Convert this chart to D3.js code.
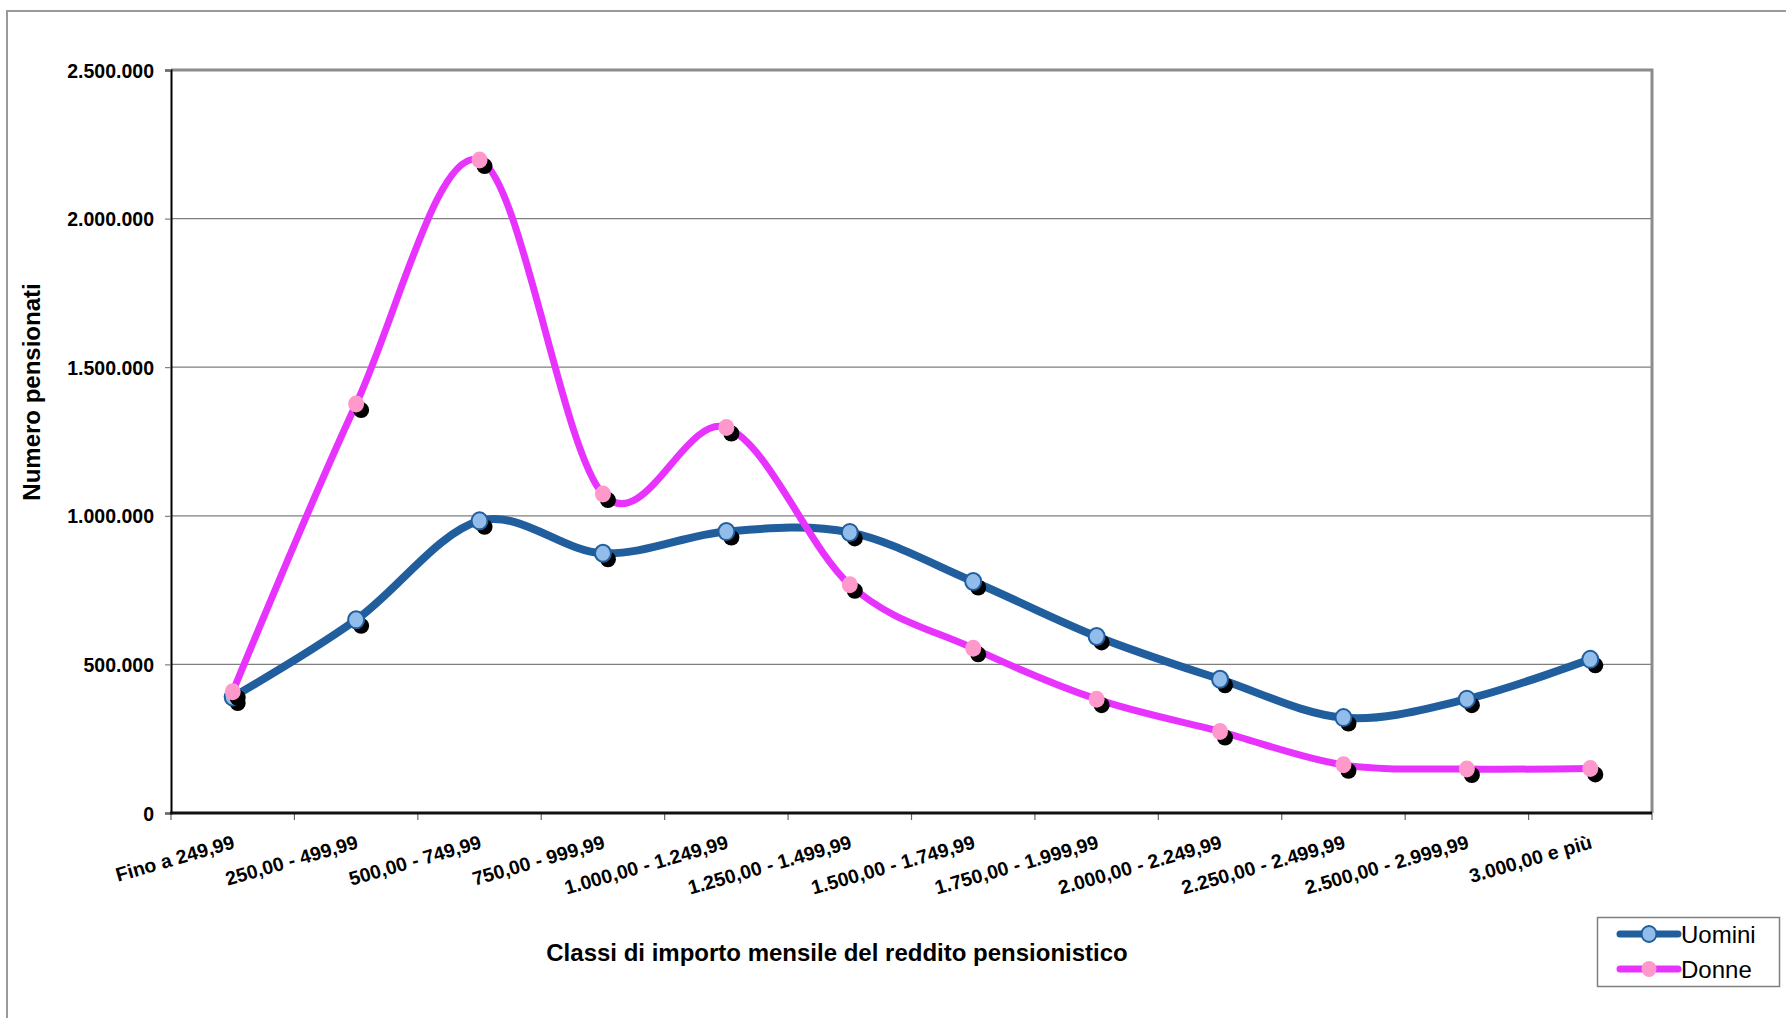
<!DOCTYPE html>
<html>
<head>
<meta charset="utf-8">
<script src="https://cdn.jsdelivr.net/npm/d3@7"></script>
<style>
  html, body { margin: 0; padding: 0; background: #fff; }
  svg { display: block; font-family: "Liberation Sans", Arial, sans-serif; }
</style>
</head>
<body>
<svg id="chart" width="1786" height="1018"></svg>
<script>
// Pension income classes (monthly amount, euro)
const categories = [
  "Fino a 249,99", "250,00 - 499,99", "500,00 - 749,99", "750,00 - 999,99",
  "1.000,00 - 1.249,99", "1.250,00 - 1.499,99", "1.500,00 - 1.749,99",
  "1.750,00 - 1.999,99", "2.000,00 - 2.249,99", "2.250,00 - 2.499,99",
  "2.500,00 - 2.999,99", "3.000,00 e più"
];
// Number of pensioners per class
const uomini = [390000, 650000, 983000, 874000, 947000, 944000, 779000, 594000, 450000, 321000, 383000, 517000];
const donne  = [408000, 1376000, 2197000, 1073000, 1297000, 768000, 554000, 383000, 274000, 162000, 148000, 150000];
const yTicks = [0, 500000, 1000000, 1500000, 2000000, 2500000];
const seriesNames = ["Uomini", "Donne"];

const fmt = v => d3.format(",")(v).replace(/,/g, ".");

const svg = d3.select("#chart");
const plot = { left: 171, right: 1652, top: 70, bottom: 813 };

const x = d3.scaleBand().domain(categories).range([plot.left, plot.right]).padding(0);
const y = d3.scaleLinear().domain([0, 2500000]).range([plot.bottom, plot.top]);
const cx = d => x(d) + x.bandwidth() / 2;

// outer chart frame
svg.append("rect")
  .attr("x", 7).attr("y", 11).attr("width", 1900).attr("height", 1100)
  .attr("fill", "none").attr("stroke", "#9a9a9a").attr("stroke-width", 2);

// horizontal gridlines
svg.append("g").selectAll("line")
  .data(yTicks.filter(t => t > 0 && t < 2500000))
  .join("line")
  .attr("x1", plot.left).attr("x2", plot.right)
  .attr("y1", d => y(d)).attr("y2", d => y(d))
  .attr("stroke", "#7f7f7f").attr("stroke-width", 1.2);

// plot area border (top and right)
svg.append("path")
  .attr("d", `M${plot.left},${y(2500000)}H${plot.right}V${plot.bottom}`)
  .attr("fill", "none").attr("stroke", "#8c8c8c").attr("stroke-width", 3);

// y axis
const yAxis = svg.append("g").attr("transform", `translate(${plot.left},0)`)
  .call(d3.axisLeft(y).tickValues(yTicks).tickFormat(fmt).tickSize(6).tickPadding(11));
yAxis.select(".domain").attr("stroke", "#000").attr("stroke-width", 2);
yAxis.selectAll(".tick line").attr("stroke", "#666");
yAxis.selectAll(".tick text")
  .attr("font-size", 19.5).attr("font-weight", "bold").attr("fill", "#000")
  .attr("font-family", "'Liberation Sans', Arial, sans-serif")
  .attr("dy", "0.36em");

// x axis: baseline and ticks at class boundaries
const boundaries = categories.map(c => x(c)).concat([x(categories[categories.length - 1]) + x.bandwidth()]);
svg.append("g").selectAll("line")
  .data(boundaries)
  .join("line")
  .attr("x1", d => d).attr("x2", d => d)
  .attr("y1", plot.bottom).attr("y2", plot.bottom + 7)
  .attr("stroke", "#666").attr("stroke-width", 1.2);
svg.append("line")
  .attr("x1", plot.left - 1).attr("x2", plot.right)
  .attr("y1", plot.bottom).attr("y2", plot.bottom)
  .attr("stroke", "#111").attr("stroke-width", 3);

// x tick labels, rotated
svg.append("g").selectAll("text")
  .data(categories)
  .join("text")
  .attr("transform", d => `translate(${cx(d) + 3},${plot.bottom + 35}) rotate(-16)`)
  .attr("text-anchor", "end")
  .attr("font-size", 19.5).attr("font-weight", "bold").attr("fill", "#000")
  .text(d => d);

// axis titles
svg.append("text")
  .attr("transform", `translate(40,392) rotate(-90)`)
  .attr("text-anchor", "middle")
  .attr("font-size", 24).attr("font-weight", "bold")
  .text("Numero pensionati");
svg.append("text")
  .attr("x", 837).attr("y", 961)
  .attr("text-anchor", "middle")
  .attr("font-size", 24).attr("font-weight", "bold")
  .text("Classi di importo mensile del reddito pensionistico");

// series
const series = [
  { name: seriesNames[0], values: uomini, line: "#205E9E", lw: 8, fill: "#92BDEA", stroke: "#205E9E", r: 8 },
  { name: seriesNames[1], values: donne,  line: "#E833FF", lw: 7, fill: "#FF99CC", stroke: "none",    r: 8 }
];

const lineGen = d3.line()
  .x((d, i) => cx(categories[i]))
  .y(d => y(d))
  .curve(d3.curveCardinal.tension(0));

series.forEach(s => {
  const g = svg.append("g");
  g.append("path")
    .attr("d", lineGen(s.values))
    .attr("fill", "none").attr("stroke", s.line).attr("stroke-width", s.lw)
    .attr("stroke-linejoin", "round").attr("stroke-linecap", "round");
  // marker shadows
  g.selectAll("ellipse.shadow")
    .data(s.values)
    .join("ellipse").attr("class", "shadow")
    .attr("cx", (d, i) => cx(categories[i]) + 5)
    .attr("cy", d => y(d) + 6)
    .attr("rx", 8).attr("ry", 8)
    .attr("fill", "#000");
  // markers
  g.selectAll("ellipse.marker")
    .data(s.values)
    .join("ellipse").attr("class", "marker")
    .attr("cx", (d, i) => cx(categories[i]))
    .attr("cy", d => y(d))
    .attr("rx", s.r).attr("ry", s.r + 0.5)
    .attr("fill", s.fill)
    .attr("stroke", s.stroke).attr("stroke-width", 2);
});

// legend
const legend = svg.append("g");
legend.append("rect")
  .attr("x", 1597.5).attr("y", 917.5).attr("width", 182).attr("height", 69)
  .attr("fill", "#fff").attr("stroke", "#7f7f7f").attr("stroke-width", 1.5);
const legY = [934, 969];
series.forEach((s, i) => {
  legend.append("line")
    .attr("x1", 1620).attr("x2", 1678).attr("y1", legY[i]).attr("y2", legY[i])
    .attr("stroke", s.line).attr("stroke-width", 7).attr("stroke-linecap", "round");
  legend.append("ellipse")
    .attr("cx", 1649).attr("cy", legY[i]).attr("rx", 7.5).attr("ry", 8)
    .attr("fill", s.fill).attr("stroke", s.stroke).attr("stroke-width", 2);
  legend.append("text")
    .attr("x", 1681).attr("y", legY[i] + 9)
    .attr("font-size", 24).attr("fill", "#000")
    .text(s.name);
});
</script>
</body>
</html>
